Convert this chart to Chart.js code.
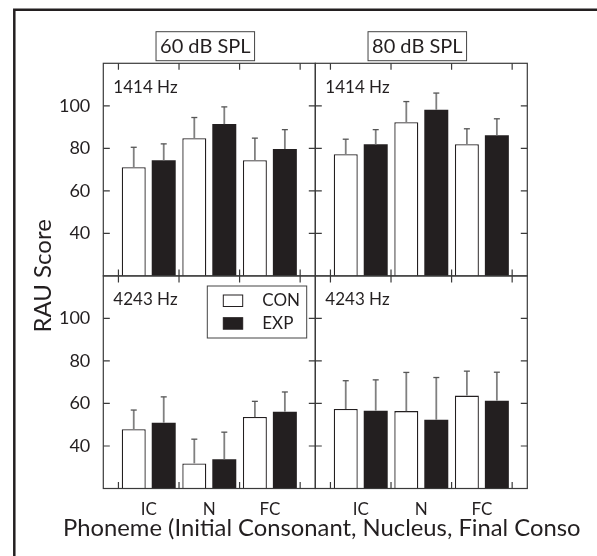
<!DOCTYPE html>
<html><head><meta charset="utf-8">
<script src="https://cdn.jsdelivr.net/npm/chart.js@4.4.0/dist/chart.umd.min.js"></script>
<style>html,body{margin:0;padding:0;background:#fff;}canvas{display:block;}</style>
</head><body>
<canvas id="c" width="597" height="556" style="width:597px;height:556px"></canvas>
<script>
// ---- data ----
const categories = ['IC', 'N', 'FC'];
const levels = ['60 dB SPL', '80 dB SPL'];
const freqs = ['1414 Hz', '4243 Hz'];
const seriesNames = ['CON', 'EXP'];
const yTicks = [40, 60, 80, 100];
// each array: 60 dB (IC, N, FC) then 80 dB (IC, N, FC)
const con1414 = [71.1, 84.8, 74.4, 77.2, 92.3, 81.9];
const exp1414 = [74.4, 91.4, 79.7, 81.9, 98.1, 86.2];
const con4243 = [47.9, 31.8, 53.6, 57.4, 56.4, 63.7];
const exp4243 = [50.9, 33.8, 56.1, 56.6, 52.3, 61.3];
const conErr1414 = [9.4, 9.7, 10.4, 7.1, 9.7, 7.3];
const expErr1414 = [7.7, 8.1, 9.1, 6.9, 7.9, 7.7];
const conErr4243 = [9.0, 11.4, 7.4, 13.3, 18.2, 11.5];
const expErr4243 = [12.2, 12.7, 9.3, 14.5, 19.9, 13.4];
const yTitle = 'RAU Score';
const xTitle = 'Phoneme (Initial Consonant, Nucleus, Final Conso';

// ---- layout helpers ----
const INK = '#231f20';
const FONT = 'Lato, "Open Sans", sans-serif';
const nCat = categories.length;
const colStep = nCat + 0.5;
const xOf = (col, i) => col * colStep + i + 0.5;
const pts = vals => vals.map((v, j) => ({x: xOf(Math.floor(j / nCat), j % nCat), y: v}));
const labelPositions = [];
const labelTexts = [];
levels.forEach((l, c) => categories.forEach((cat, i) => { labelPositions.push(xOf(c, i)); labelTexts.push(cat); }));

const CON_STYLE = {backgroundColor: '#ffffff', borderColor: INK, borderWidth: 1.3, stack: 'con'};
const EXP_STYLE = {backgroundColor: INK, borderColor: INK, borderWidth: 0, stack: 'exp'};

const datasets = [
  Object.assign({label: seriesNames[0], data: pts(con1414), yAxisID: 'yTop', errs: conErr1414}, CON_STYLE),
  Object.assign({label: seriesNames[1], data: pts(exp1414), yAxisID: 'yTop', errs: expErr1414}, EXP_STYLE),
  Object.assign({label: seriesNames[0], data: pts(con4243), yAxisID: 'yBot', errs: conErr4243}, CON_STYLE),
  Object.assign({label: seriesNames[1], data: pts(exp4243), yAxisID: 'yBot', errs: expErr4243}, EXP_STYLE)
];

const yAxis = (weight) => ({
  type: 'linear', position: 'left', stack: 'rows', stackWeight: 1, weight: weight,
  min: 20, max: 120, stacked: false, offset: false,
  afterBuildTicks: s => { s.ticks = yTicks.map(v => ({value: v})); },
  afterFit: s => { s.width = 103.3; },
  grid: {display: false}, border: {display: false},
  ticks: {color: INK, font: {family: FONT, size: 18}, padding: 5}
});

const deco = {
  id: 'deco',
  afterDatasetsDraw(chart) {
    const ctx = chart.ctx;
    ctx.save();
    chart.data.datasets.forEach((ds, di) => {
      const meta = chart.getDatasetMeta(di);
      const ys = chart.scales[ds.yAxisID];
      meta.data.forEach((el, i) => {
        const top = el.y;
        const et = ys.getPixelForValue(ds.data[i].y + ds.errs[i]);
        ctx.strokeStyle = '#808080'; ctx.lineWidth = 1.8;
        ctx.beginPath(); ctx.moveTo(el.x, top); ctx.lineTo(el.x, et); ctx.stroke();
        ctx.strokeStyle = '#555'; ctx.lineWidth = 1.3;
        ctx.beginPath(); ctx.moveTo(el.x - 3, et); ctx.lineTo(el.x + 3, et); ctx.stroke();
      });
    });
    ctx.restore();
  },
  afterDraw(chart) {
    const ctx = chart.ctx;
    const xs = chart.scales.x;
    const rows = [chart.scales.yTop, chart.scales.yBot];
    ctx.save();
    // outer figure frame
    ctx.strokeStyle = INK; ctx.lineWidth = 2.5;
    ctx.beginPath(); ctx.moveTo(14.3, 556); ctx.lineTo(14.3, 9.7); ctx.lineTo(597, 9.7); ctx.stroke();
    // panels
    const TL = 6.5;
    rows.forEach((ys, r) => {
      levels.forEach((lv, c) => {
        const xl = xs.getPixelForValue(c * colStep - 0.25);
        const xr = xs.getPixelForValue(c * colStep + nCat + 0.25);
        const yt = ys.top, yb = ys.bottom;
        ctx.strokeStyle = '#3a3a3a'; ctx.lineWidth = 1.2;
        ctx.strokeRect(xl, yt, xr - xl, yb - yt);
        ctx.beginPath();
        for (let k = 0; k <= nCat; k++) {
          const px = xs.getPixelForValue(c * colStep + k);
          ctx.moveTo(px, yt); ctx.lineTo(px, yt + TL);
          ctx.moveTo(px, yb); ctx.lineTo(px, yb - TL);
        }
        yTicks.forEach(v => {
          const py = ys.getPixelForValue(v);
          ctx.moveTo(xl, py); ctx.lineTo(xl + TL, py);
          ctx.moveTo(xr, py); ctx.lineTo(xr - TL, py);
        });
        ctx.stroke();
        // frequency label
        ctx.fillStyle = INK; ctx.font = '17px ' + FONT;
        ctx.textAlign = 'left'; ctx.textBaseline = 'middle';
        ctx.fillText(freqs[r], xl + 10, yt + 24);
        // level title boxes
        if (r === 0) {
          ctx.font = '20px ' + FONT;
          ctx.textAlign = 'center';
          const cx = (xl + xr) / 2 - 4;
          const w = ctx.measureText(lv).width + 8;
          ctx.fillText(lv, cx, 46.5);
          ctx.strokeStyle = '#444'; ctx.lineWidth = 1;
          ctx.strokeRect(cx - w / 2, 31.7, w, 29);
        }
      });
    });
    // legend
    const lx = 207.3, ly = 286;
    ctx.fillStyle = '#fff';
    ctx.fillRect(lx, ly, 99.4, 52);
    ctx.strokeStyle = '#444'; ctx.lineWidth = 1;
    ctx.strokeRect(lx, ly, 99.4, 52);
    const legendStyles = [CON_STYLE, EXP_STYLE];
    seriesNames.forEach((n, i) => {
      const yy = ly + 9 + i * 22.7;
      ctx.fillStyle = legendStyles[i].backgroundColor;
      ctx.fillRect(lx + 16, yy, 19.4, 11.5);
      ctx.strokeStyle = INK; ctx.lineWidth = 1;
      ctx.strokeRect(lx + 16, yy, 19.4, 11.5);
      ctx.fillStyle = INK; ctx.font = '17px ' + FONT;
      ctx.textAlign = 'left'; ctx.textBaseline = 'middle';
      ctx.fillText(n, lx + 55, yy + 6);
    });
    // axis titles
    ctx.fillStyle = INK;
    ctx.font = '24px ' + FONT;
    ctx.save();
    ctx.translate(43.5, (rows[0].top + rows[1].bottom) / 2);
    ctx.rotate(-Math.PI / 2);
    ctx.textAlign = 'center'; ctx.textBaseline = 'middle';
    ctx.fillText(yTitle, 0, 0);
    ctx.restore();
    ctx.font = '22px ' + FONT;
    const tw = ctx.measureText(xTitle).width;
    const fs = Math.min(24, 22 * 518 / tw);
    ctx.font = fs.toFixed(1) + 'px ' + FONT;
    ctx.textAlign = 'left'; ctx.textBaseline = 'alphabetic';
    ctx.fillText(xTitle, 63, 536);
    ctx.restore();
  }
};

new Chart(document.getElementById('c'), {
  type: 'bar',
  data: {datasets: datasets},
  options: {
    responsive: false, animation: false, devicePixelRatio: 1,
    layout: {padding: {left: 0, right: 597 - 527.3, top: 63.3, bottom: 0}},
    plugins: {legend: {display: false}, tooltip: {enabled: false}},
    datasets: {bar: {barPercentage: 0.8, categoryPercentage: 0.99}},
    scales: {
      x: {
        type: 'linear', offset: false, min: -0.25, max: colStep * levels.length - 0.25,
        afterBuildTicks: s => { s.ticks = labelPositions.map(v => ({value: v})); },
        afterFit: s => { s.height = 556 - 488.5; },
        grid: {display: false, offset: false}, border: {display: false},
        ticks: {autoSkip: false, maxRotation: 0, color: INK, font: {family: FONT, size: 17}, padding: 3,
          callback: (v, i) => labelTexts[i]}
      },
      yBot: yAxis(1),
      yTop: yAxis(2)
    }
  },
  plugins: [deco]
});
</script>
</body></html>
